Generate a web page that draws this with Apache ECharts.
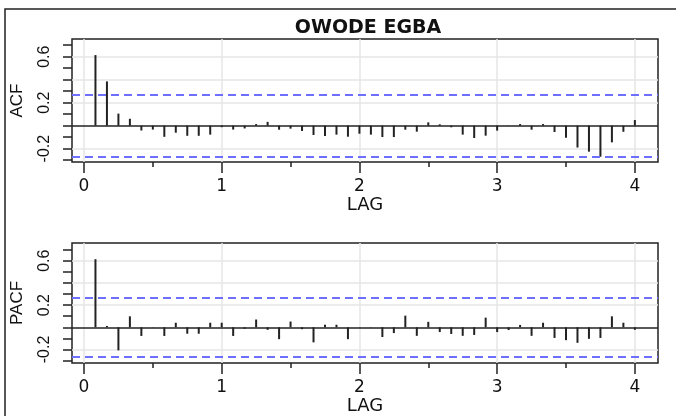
<!DOCTYPE html>
<html>
<head>
<meta charset="utf-8">
<script src="https://cdn.jsdelivr.net/npm/echarts@6/dist/echarts.min.js"></script>
<style>
  html, body { margin: 0; padding: 0; background: #fff; }
  #chart { width: 676px; height: 416px; }
</style>
</head>
<body>
<div id="chart"></div>
<script>
// lags 1..48, months -> years
var lags = [];
for (var k = 1; k <= 48; k++) lags.push(k / 12);

var acfValues = [0.614, 0.385, 0.105, 0.06, -0.042, -0.034, -0.097, -0.061, -0.088, -0.088, -0.078, -0.013,
  -0.034, -0.024, 0.014, 0.033, -0.035, -0.026, -0.046, -0.081, -0.09, -0.078, -0.096, -0.07,
  -0.078, -0.099, -0.099, -0.035, -0.052, 0.029, 0.012, -0.014, -0.078, -0.107, -0.087, -0.043,
  0.002, 0.014, -0.035, 0.014, -0.055, -0.105, -0.19, -0.226, -0.27, -0.145, -0.053, 0.049];

var pacfValues = [0.614, 0.012, -0.208, 0.099, -0.078, 0.002, -0.078, 0.041, -0.058, -0.058, 0.041, 0.041,
  -0.078, -0.013, 0.07, -0.023, -0.107, 0.052, -0.017, -0.136, 0.023, 0.023, -0.107, 0.002,
  0.002, -0.088, -0.052, 0.105, -0.077, 0.049, -0.043, -0.06, -0.077, -0.069, 0.087, -0.043,
  -0.025, 0.021, -0.077, 0.041, -0.096, -0.116, -0.14, -0.104, -0.096, 0.099, 0.041, -0.023];

var confBound = 0.265;
var xMajorTicks = [0, 1, 2, 3, 4];
var xHalfTicks = [0.5, 1.5, 2.5, 3.5];
var yTicks = [-0.3, -0.2, -0.1, 0, 0.1, 0.2, 0.3, 0.4, 0.5, 0.6, 0.7];
var yLabels = [-0.2, 0.2, 0.6];
var gridYLines = [-0.2, 0.2, 0.4, 0.6];

var ink = '#222';
var gray = '#e6e6e6';
var blue = '#6f6fff';

function pairs(vals) {
  return vals.map(function (v, i) { return [lags[i], v]; });
}

function xAxes(gi) {
  return [{
    type: 'value', gridIndex: gi, position: 'bottom', min: -0.087, max: 4.168,
    name: 'LAG', nameLocation: 'middle', nameGap: 34,
    nameTextStyle: { fontFamily: 'DejaVu Sans', fontSize: 18, color: '#111' },
    axisLine: { show: false, onZero: false },
    axisTick: { show: true, customValues: xMajorTicks, length: 11, lineStyle: { color: ink, width: 1.5 } },
    axisLabel: { customValues: xMajorTicks, margin: 16, fontFamily: 'DejaVu Sans', fontSize: 17, color: '#111' },
    splitLine: { show: true, lineStyle: { color: gray, width: 1.5 } }
  }, {
    type: 'value', gridIndex: gi, position: 'bottom', min: -0.087, max: 4.168,
    axisLine: { show: false, onZero: false },
    axisTick: { show: true, customValues: xHalfTicks, length: 5, lineStyle: { color: ink, width: 1.5 } },
    axisLabel: { show: false },
    splitLine: { show: false }
  }];
}

function yAxes(gi, name, min, max) {
  return [{
    type: 'value', gridIndex: gi, position: 'left', min: min, max: max,
    name: name, nameLocation: 'middle', nameGap: 46, nameRotate: 90,
    nameTextStyle: { fontFamily: 'Liberation Sans', fontSize: 17, color: '#111' },
    axisLine: { show: false, onZero: false },
    axisTick: { show: true, customValues: yTicks, length: 9, lineStyle: { color: ink, width: 1.5 } },
    axisLabel: {
      customValues: yLabels, rotate: 90, margin: 19,
      fontFamily: 'Liberation Sans', fontSize: 16, color: '#111',
      formatter: function (v) { return (Math.round(v * 10) / 10).toFixed(1); }
    },
    splitLine: { show: false }
  }, {
    // only carries the horizontal grid lines
    type: 'value', gridIndex: gi, position: 'left', min: min, max: max,
    axisLine: { show: false, onZero: false },
    axisTick: { show: false, customValues: gridYLines },
    axisLabel: { show: false, customValues: gridYLines },
    splitLine: { show: true, lineStyle: { color: gray, width: 1.5 } }
  }];
}

function panelSeries(gi, vals) {
  return [{
    type: 'bar', xAxisIndex: gi * 2, yAxisIndex: gi * 2, data: pairs(vals), z: 3,
    barWidth: 2, itemStyle: { color: ink }, animation: false,
    markLine: {
      symbol: 'none', silent: true, animation: false, label: { show: false },
      data: [
        { yAxis: 0, lineStyle: { color: ink, width: 1.5, type: 'solid' } },
        { yAxis: confBound, lineStyle: { color: blue, width: 2, type: [8, 5] } },
        { yAxis: -confBound, lineStyle: { color: blue, width: 2, type: [8, 5] } }
      ]
    }
  }];
}

var chart = echarts.init(document.getElementById('chart'));
chart.setOption({
  animation: false,
  backgroundColor: '#fff',
  title: {
    text: 'OWODE EGBA', left: 363, top: 14, textAlign: 'center',
    textStyle: { fontFamily: 'DejaVu Sans', fontWeight: 'bold', fontSize: 19, color: '#111' }
  },
  graphic: [{
    type: 'rect', silent: true, z: 0,
    shape: { x: 5, y: 9, width: 700, height: 500 },
    style: { fill: 'none', stroke: ink, lineWidth: 1.5 }
  }],
  grid: [
    { left: 72, top: 39, width: 586, height: 123, show: true, borderColor: ink, borderWidth: 1.5, backgroundColor: 'transparent' },
    { left: 72, top: 243, width: 586, height: 125, show: true, borderColor: ink, borderWidth: 1.5, backgroundColor: 'transparent' }
  ],
  xAxis: xAxes(0).concat(xAxes(1)),
  yAxis: yAxes(0, 'ACF', -0.316, 0.754).concat(yAxes(1, 'PACF', -0.322, 0.76)),
  series: panelSeries(0, acfValues).concat(panelSeries(1, pacfValues))
});
</script>
</body>
</html>
